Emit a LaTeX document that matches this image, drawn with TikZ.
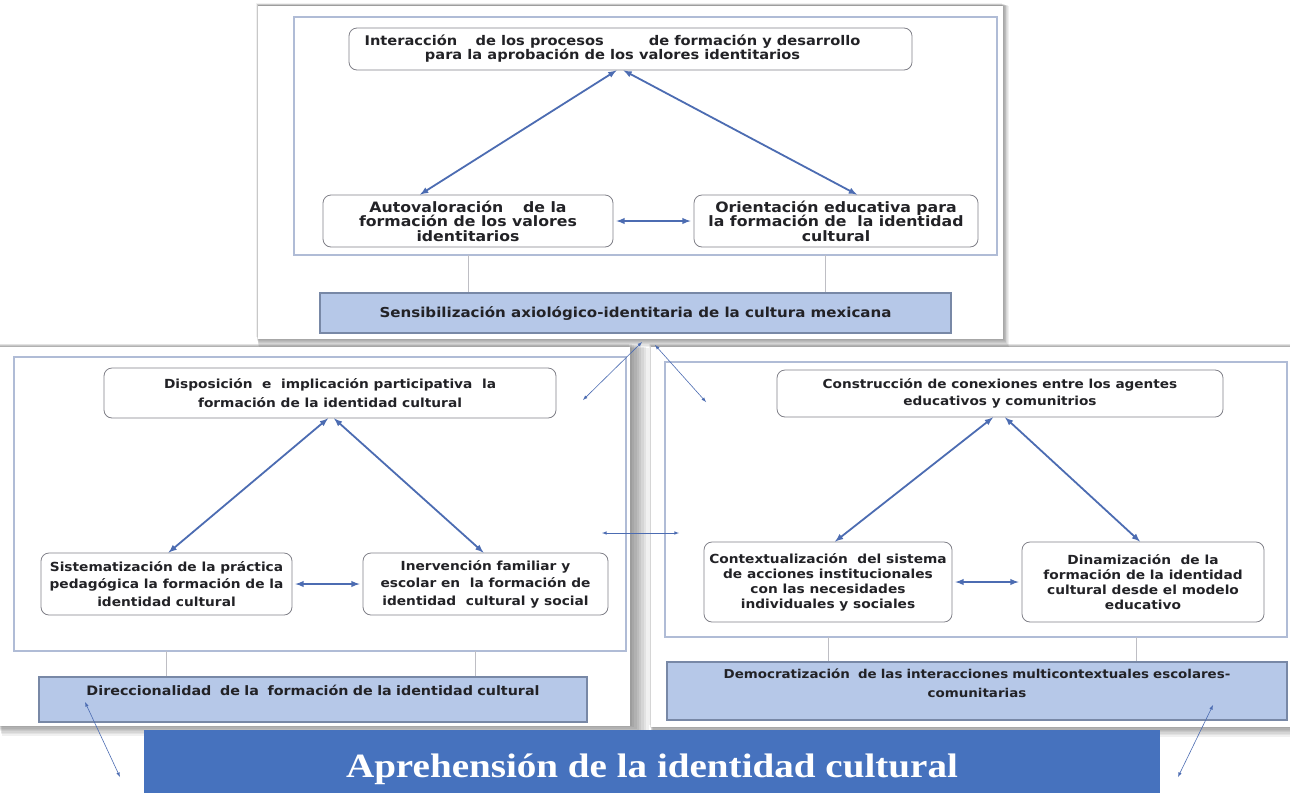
\documentclass[tikz,border=0pt]{standalone}
\usepackage{fontspec}
\setmainfont[FakeStretch=1.1]{DejaVu Sans}
\newfontfamily\titlefont[FakeStretch=1.15]{Liberation Serif}
\definecolor{arrc}{RGB}{76,108,178}
\definecolor{panelc}{RGB}{176,188,214}
\definecolor{edgec}{RGB}{128,128,136}
\definecolor{axisfill}{RGB}{182,200,232}
\definecolor{axisedge}{RGB}{120,136,166}
\definecolor{mainblue}{RGB}{70,114,190}
\definecolor{stemc}{RGB}{190,190,196}
\definecolor{txtc}{RGB}{34,34,38}
\begin{document}
\begin{tikzpicture}[>=latex, x=1pt, y=-1pt,
  card/.style={fill=white},
  haze/.style={fill=black, opacity=0.06},
  panel/.style={draw=panelc, line width=1.3pt},
  topic/.style={draw=edgec, line width=0.8pt, rounded corners=8pt, fill=white, align=center,
    inner sep=0pt, text=txtc, font=\bfseries\fontsize{12.5}{17.5}\selectfont},
  axisbox/.style={draw=axisedge, line width=1.1pt, fill=axisfill, align=center,
    inner sep=0pt, text=txtc, font=\bfseries\fontsize{12.5}{19}\selectfont},
  link/.style={<->, draw=arrc, line width=1.8pt},
  hint/.style={<->, draw=arrc, line width=0.6pt},
  stem/.style={draw=stemc, line width=0.8pt}]
\useasboundingbox (0,0) rectangle (1290,793);

% soft shadows, then cards and frames
\foreach \k in {1,...,9} {
  \fill[haze] (-2+\k*0.4,343+\k*0.5) rectangle (627+\k*2.4,723+\k*1.4);
  \fill[haze] (649+\k*0.4,343+\k*0.5) rectangle (1292,724+\k*1.4);
  \fill[haze] (256+\k*0.3,3+\k*0.3) rectangle (1001+\k*0.9,336+\k*1.2);
}
\fill[card] (0,347) rectangle (630,726);
\fill[card] (651,347) rectangle (1290,727);
\fill[card] (258,6) rectangle (1003,339);
\draw[panel] (294,17) rectangle (997,255);
\draw[panel] (14,357) rectangle (626,651);
\draw[panel] (665,362) rectangle (1287,637);

% upper triangle
\node[topic, minimum width=563pt, minimum height=42pt, font=\bfseries\fontsize{13.3}{14}\selectfont] (inter) at (630.5,49)
  {Interacción \quad de los procesos \qquad\quad de formación y desarrollo\hspace*{36pt}\\para la aprobación de los valores identitarios\hspace*{36pt}};
\node[topic, minimum width=290pt, minimum height=52pt, font=\bfseries\fontsize{14.3}{14.5}\selectfont] (autov) at (468,221)
  {Autovaloración \quad de la\\formación de los valores\\identitarios};
\node[topic, minimum width=284pt, minimum height=52pt, font=\bfseries\fontsize{14.3}{14.5}\selectfont] (orient) at (836,221)
  {Orientación educativa para\\la formación de \ la identidad\\cultural};
\node[axisbox, minimum width=631pt, minimum height=40pt, font=\bfseries\fontsize{13.7}{16}\selectfont] (sensib) at (635.5,313)
  {Sensibilización axiológico-identitaria de la cultura mexicana};
\draw[link] ([xshift=-14pt]inter.south) -- ([xshift=-48pt]autov.north);
\draw[link] ([xshift=-7pt]inter.south) -- ([xshift=21pt]orient.north);
\draw[link, shorten <=3pt, shorten >=3pt] (autov.east) -- (orient.west);
\draw[stem] (autov.south |- 0,255) -- (autov.south |- sensib.north);
\draw[stem] ([xshift=-11pt]orient.south |- 0,255) -- ([xshift=-11pt]orient.south |- sensib.north);

% left triangle
\node[topic, minimum width=452pt, minimum height=50pt, font=\bfseries\fontsize{12.5}{19}\selectfont] (dispo) at (330,393)
  {Disposición \ e \ implicación participativa \ la\\formación de la identidad cultural};
\node[topic, minimum width=251pt, minimum height=62pt] (sistem) at (166.5,584)
  {Sistematización de la práctica\\pedagógica la formación de la\\identidad cultural};
\node[topic, minimum width=245pt, minimum height=62pt] (inerv) at (485.5,584)
  {Inervención familiar y\\escolar en \ la formación de\\identidad \ cultural y social};
\node[axisbox, text width=548pt, text height=18pt, text depth=27pt, font=\bfseries\fontsize{13}{19}\selectfont] (direcc) at (313,699.5)
  {Direccionalidad \ de la \ formación de la identidad cultural};
\draw[link] ([xshift=-2pt]dispo.south) -- ([xshift=2pt]sistem.north);
\draw[link] ([xshift=4pt]dispo.south) -- ([xshift=-2pt]inerv.north);
\draw[link, shorten <=3pt, shorten >=3pt] (sistem.east) -- (inerv.west);
\draw[stem] (sistem.south |- 0,651) -- (sistem.south |- direcc.north);
\draw[stem] ([xshift=-10pt]inerv.south |- 0,651) -- ([xshift=-10pt]inerv.south |- direcc.north);

% right triangle
\node[topic, minimum width=446pt, minimum height=47pt, font=\bfseries\fontsize{12.4}{17}\selectfont] (constr) at (1000,393.5)
  {Construcción de conexiones entre los agentes\\educativos y comunitrios};
\node[topic, minimum width=248pt, minimum height=80pt, font=\bfseries\fontsize{12.5}{15}\selectfont] (contex) at (828,582)
  {Contextualización \ del sistema\\de acciones institucionales\\con las necesidades\\individuales y sociales};
\node[topic, minimum width=242pt, minimum height=80pt, font=\bfseries\fontsize{12.5}{15}\selectfont] (dinam) at (1143,582)
  {Dinamización \ de la\\formación de la identidad\\cultural desde el modelo\\educativo};
\node[axisbox, text width=620pt, text height=16pt, text depth=42pt, font=\bfseries\fontsize{12.2}{19}\selectfont] (democ) at (977,691)
  {Democratización \ de las interacciones multicontextuales escolares-\\comunitarias};
\draw[link] ([xshift=-7pt]constr.south) -- ([xshift=7pt]contex.north);
\draw[link] ([xshift=5pt]constr.south) -- ([xshift=-3pt]dinam.north);
\draw[link, shorten <=3pt, shorten >=3pt] (contex.east) -- (dinam.west);
\draw[stem] (contex.south |- 0,637) -- (contex.south |- democ.north);
\draw[stem] ([xshift=-7pt]dinam.south |- 0,637) -- ([xshift=-7pt]dinam.south |- democ.north);

% bottom title
\node[fill=mainblue, minimum width=1016pt, inner sep=0pt, text height=47pt, text depth=16pt, text=white,
  font=\titlefont\bfseries\fontsize{34}{36}\selectfont] (apreh) at (652,761.5) {Aprehensión de la identidad cultural};

% thin links between the parts
\coordinate (hubL) at (642,342);
\coordinate (hubR) at (655,345);
\coordinate (inL) at (583,400);
\coordinate (inR) at (706,402);
\coordinate (midL) at (602,533);
\coordinate (midR) at (679,533);
\coordinate (footL) at (85,702);
\coordinate (footLb) at (120,777);
\coordinate (footR) at (1213,705);
\coordinate (footRb) at (1178,777);
\draw[hint] (hubL) -- (inL);
\draw[hint] (hubR) -- (inR);
\draw[hint] (midL) -- (midR);
\draw[hint] (footL) -- (footLb);
\draw[hint] (footR) -- (footRb);
\end{tikzpicture}
\end{document}
